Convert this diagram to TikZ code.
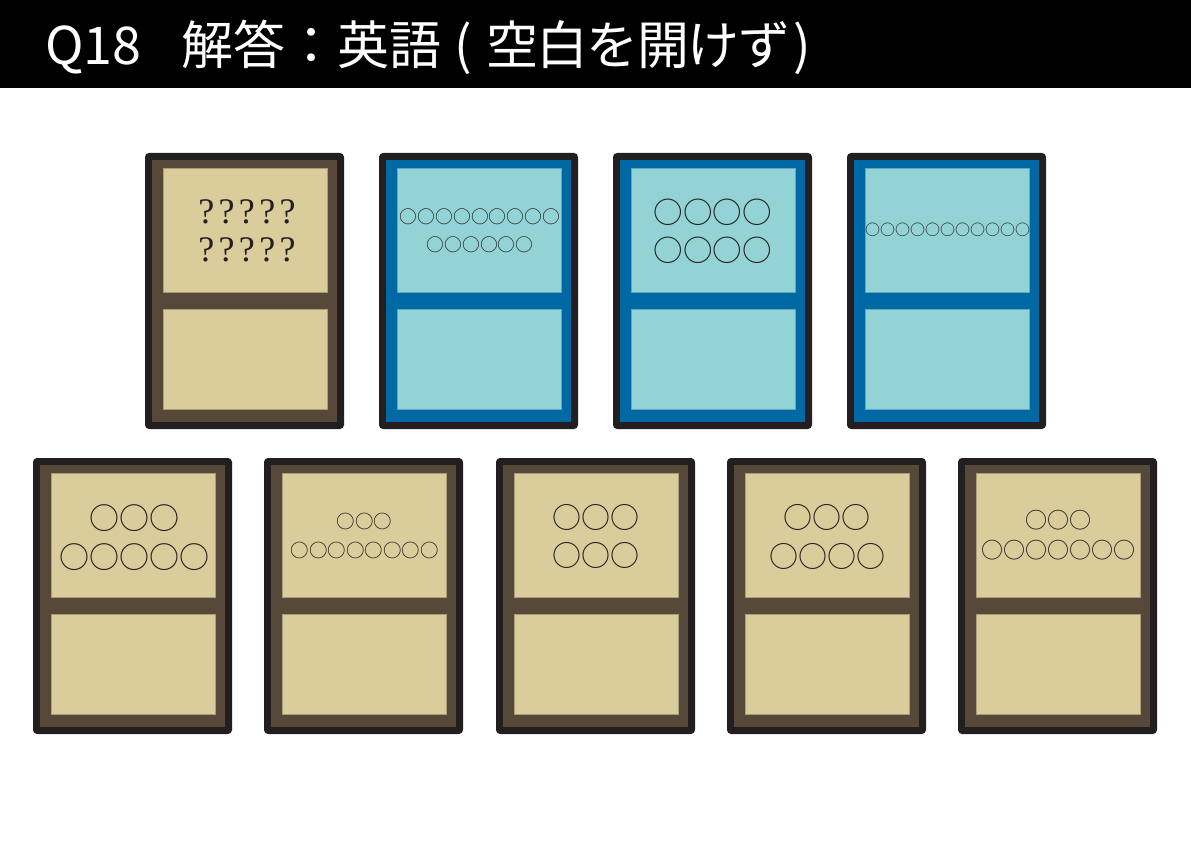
\documentclass[tikz,border=0pt]{standalone}
\usepackage{fontspec}
\newfontfamily\jp{Noto Sans CJK JP}
\newfontfamily\circfont{Noto Sans CJK JP}
\newfontfamily\qfont[LetterSpace=12]{Liberation Serif}
\definecolor{cardblack}{HTML}{231F20}
\definecolor{brownframe}{HTML}{564939}
\definecolor{tanpanel}{HTML}{DBCD9B}
\definecolor{tanedge}{HTML}{A99D79}
\definecolor{blueframe}{HTML}{0069A3}
\definecolor{bluepanel}{HTML}{93D3D6}
\definecolor{blueedge}{HTML}{5FA9C0}
\newcommand\mycard[5]{%
  \fill[cardblack, rounded corners=4pt] (#1,#2) rectangle ({#1+199},{#2+276});
  \fill[#3] ({#1+7},{#2+7}) rectangle ({#1+192},{#2+269});
  \filldraw[fill=#4, draw=#5, line width=0.5pt] ({#1+18},{#2+15}) rectangle ({#1+182},{#2+139});
  \filldraw[fill=#4, draw=#5, line width=0.5pt] ({#1+18},{#2+156}) rectangle ({#1+182},{#2+256});
}
% name, center x, center y, font size, text
\newcommand\circline[5]{%
  \node[circrow, font=\circfont\fontsize{#4}{#4}\selectfont] (#1) at (#2,{#3+0.38*#4}) {#5};
}
\begin{document}
\begin{tikzpicture}[x=1pt,y=-1pt,
  circrow/.style={inner sep=0pt, anchor=base, text=cardblack},
  qrow/.style={inner sep=0pt, anchor=base, text=cardblack, font=\qfont\fontsize{36}{36}\selectfont}]
\useasboundingbox (0,0) rectangle (1191,842);
\fill[white] (0,0) rectangle (1191,842);
\fill[black] (0,0) rectangle (1191,88);
\node[inner sep=0pt, anchor=base west, text=white, font=\jp\fontsize{52}{52}\selectfont] (title) at (45,65) {Q18\hspace{40pt}解答：英語\hspace{13pt}(\hspace{14pt}{\addfontfeature{LetterSpace=-3}空白を開けず}\hspace{3pt})};
% top row
\mycard{145}{153}{brownframe}{tanpanel}{tanedge}
\mycard{379}{153}{blueframe}{bluepanel}{blueedge}
\mycard{613}{153}{blueframe}{bluepanel}{blueedge}
\mycard{847}{153}{blueframe}{bluepanel}{blueedge}
% bottom row
\mycard{33}{458}{brownframe}{tanpanel}{tanedge}
\mycard{264}{458}{brownframe}{tanpanel}{tanedge}
\mycard{496}{458}{brownframe}{tanpanel}{tanedge}
\mycard{727}{458}{brownframe}{tanpanel}{tanedge}
\mycard{958}{458}{brownframe}{tanpanel}{tanedge}
% texts top row
\node[qrow] (t1a) at (247,224) {?????};
\node[qrow] (t1b) at (247,262) {?????};
\circline{t2a}{480}{217}{17.8}{○○○○○○○○○}
\circline{t2b}{480}{244.5}{17.8}{○○○○○○}
\circline{t3a}{712.5}{212}{29.5}{○○○○}
\circline{t3b}{712.5}{250}{29.5}{○○○○}
\circline{t4a}{947.5}{230}{15}{○○○○○○○○○○○}
% texts bottom row
\circline{b1a}{134}{518}{30}{○○○}
\circline{b1b}{134}{557.5}{30}{○○○○○}
\circline{b2a}{364.5}{521}{18.5}{○○○}
\circline{b2b}{364.5}{550}{18.5}{○○○○○○○○}
\circline{b3a}{596}{517}{29}{○○○}
\circline{b3b}{596}{555.5}{29}{○○○}
\circline{b4a}{827}{517}{29}{○○○}
\circline{b4b}{827}{556}{29}{○○○○}
\circline{b5a}{1058}{520}{22}{○○○}
\circline{b5b}{1058}{550.5}{22}{○○○○○○○}
\end{tikzpicture}
\end{document}
